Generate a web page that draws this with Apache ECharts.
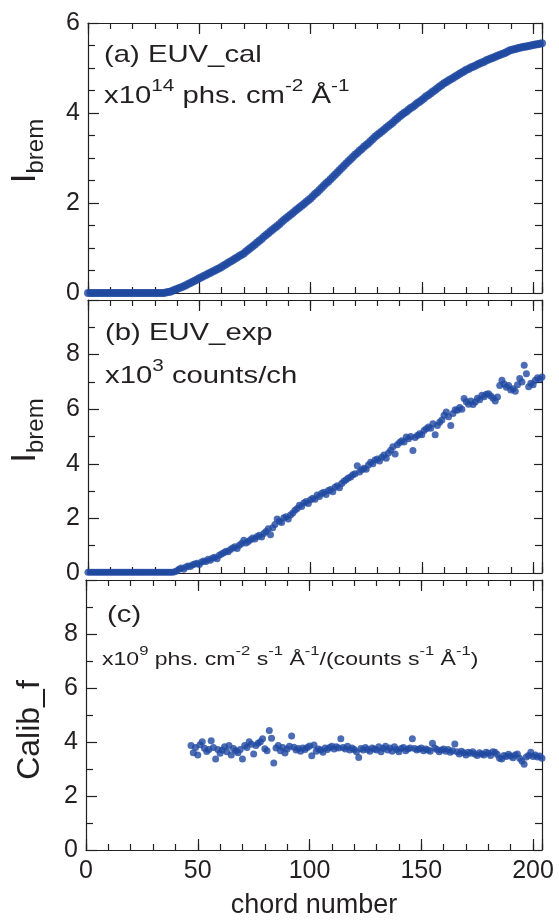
<!DOCTYPE html>
<html>
<head>
<meta charset="utf-8">
<script src="https://cdn.jsdelivr.net/npm/echarts@6/dist/echarts.min.js"></script>
<style>
html, body { margin: 0; padding: 0; background: #fff; }
#main { width: 559px; height: 920px; }
</style>
</head>
<body>
<div id="main"></div>
<script>
// ---- data (chord number = array index, unless a start chord is given) ----
const calValues = [
    0, 0, 0, 0, 0, 0, 0, 0, 0, 0,
    0, 0, 0, 0, 0, 0, 0, 0, 0, 0,
    0, 0, 0, 0, 0, 0, 0, 0, 0, 0,
    0, 0, 0, 0, 0, 0.01, 0.02, 0.03, 0.05, 0.07,
    0.09, 0.11, 0.13, 0.15, 0.17, 0.20, 0.22, 0.25, 0.27, 0.30,
    0.33, 0.35, 0.38, 0.40, 0.43, 0.45, 0.48, 0.50, 0.53, 0.55,
    0.58, 0.61, 0.64, 0.67, 0.70, 0.73, 0.76, 0.79, 0.82, 0.85,
    0.88, 0.92, 0.96, 1.00, 1.04, 1.08, 1.12, 1.16, 1.20, 1.25,
    1.29, 1.33, 1.37, 1.41, 1.45, 1.49, 1.53, 1.58, 1.62, 1.66,
    1.70, 1.74, 1.78, 1.82, 1.86, 1.90, 1.94, 1.98, 2.02, 2.06,
    2.10, 2.15, 2.20, 2.24, 2.29, 2.34, 2.39, 2.44, 2.48, 2.53,
    2.58, 2.63, 2.68, 2.73, 2.78, 2.83, 2.88, 2.93, 2.97, 3.02,
    3.07, 3.11, 3.16, 3.20, 3.25, 3.29, 3.33, 3.38, 3.42, 3.47,
    3.51, 3.55, 3.59, 3.63, 3.67, 3.71, 3.75, 3.79, 3.84, 3.88,
    3.92, 3.96, 4.00, 4.03, 4.07, 4.11, 4.14, 4.18, 4.22, 4.25,
    4.29, 4.33, 4.37, 4.40, 4.44, 4.48, 4.51, 4.55, 4.59, 4.62,
    4.66, 4.69, 4.72, 4.75, 4.78, 4.81, 4.84, 4.87, 4.90, 4.93,
    4.96, 4.98, 5.01, 5.03, 5.05, 5.08, 5.10, 5.12, 5.14, 5.17,
    5.19, 5.21, 5.23, 5.25, 5.27, 5.29, 5.31, 5.33, 5.35, 5.38,
    5.40, 5.41, 5.42, 5.44, 5.45, 5.46, 5.47, 5.48, 5.49, 5.50,
    5.51, 5.52, 5.53, 5.54, 5.55
];

const expValues = [
    0.03, 0.03, 0.03, 0.03, 0.03, 0.03, 0.03, 0.03, 0.03, 0.03,
    0.03, 0.03, 0.03, 0.03, 0.03, 0.03, 0.03, 0.03, 0.03, 0.03,
    0.03, 0.03, 0.03, 0.03, 0.03, 0.03, 0.03, 0.03, 0.03, 0.03,
    0.03, 0.03, 0.03, 0.03, 0.03, 0.03, 0.03, 0.03, 0.03, 0.05,
    0.08, 0.15, 0.18, 0.14, 0.22, 0.26, 0.24, 0.30, 0.33, 0.36,
    0.31, 0.40, 0.44, 0.42, 0.50, 0.47, 0.55, 0.58, 0.52, 0.65,
    0.70, 0.74, 0.80, 0.78, 0.86, 0.92, 0.96, 0.90, 1.02, 1.08,
    1.20, 1.10, 1.15, 1.22, 1.28, 1.25, 1.34, 1.38, 1.32, 1.45,
    1.52, 1.62, 1.40, 1.66, 1.78, 1.98, 1.90, 1.85, 2.02, 2.06,
    1.98, 2.12, 2.20, 2.30, 2.36, 2.48, 2.44, 2.56, 2.62, 2.55,
    2.68, 2.74, 2.70, 2.86, 2.80, 2.92, 2.96, 2.88, 3.02, 3.06,
    2.98, 3.14, 3.20, 3.12, 3.28, 3.36, 3.42, 3.48, 3.52, 3.60,
    3.64, 3.93, 3.70, 3.78, 3.84, 3.80, 3.96, 4.06, 4.00, 4.14,
    4.18, 4.10, 4.24, 4.32, 4.20, 4.40, 4.50, 4.62, 4.36, 4.70,
    4.78, 4.84, 4.80, 4.98, 4.92, 5.00, 4.49, 4.96, 5.04, 5.10,
    5.06, 5.22, 5.28, 5.35, 5.30, 5.47, 5.06, 5.40, 5.52, 5.60,
    5.78, 5.90, 5.72, 5.40, 5.84, 5.98, 5.96, 6.06, 6.00, 6.39,
    6.27, 6.18, 6.30, 6.17, 6.26, 6.40, 6.35, 6.51, 6.46, 6.55,
    6.57, 6.48, 6.40, 6.30, 6.45, 6.87, 7.06, 6.92, 6.80, 6.87,
    6.70, 6.75, 6.66, 6.90, 7.12, 7.00, 7.61, 7.30, 6.82, 6.95,
    6.90, 7.06, 7.15, 7.10, 7.18
];

const calibStart = 47;
const calibValues = [
    3.87, 3.60, 3.80,
    3.52, 3.90, 4.01, 3.77, 3.65, 3.72, 4.05, 3.80, 3.37, 3.72,
    3.58, 3.70, 3.82, 3.64, 3.87, 3.52, 3.76, 3.68, 3.60, 3.72,
    3.37, 3.87, 3.80, 4.01, 3.92, 3.56, 3.87, 3.95, 4.01, 4.12,
    3.75, 3.68, 4.43, 4.14, 3.22, 3.78, 3.87, 3.68, 3.80, 3.59,
    3.74, 3.84, 4.22, 3.81, 3.70, 3.76, 3.66, 3.78, 3.72, 3.80,
    3.85, 3.49, 3.89, 3.66, 3.74, 3.70, 3.62, 3.78, 3.72, 3.80,
    3.84, 3.74, 3.82, 3.78, 4.12, 3.80, 3.74, 3.84, 3.70, 3.78,
    3.72, 3.64, 3.43, 3.76, 3.70, 3.80, 3.72, 3.66, 3.78, 3.74,
    3.70, 3.82, 3.64, 3.76, 3.84, 3.70, 3.78, 3.66, 3.82, 3.72,
    3.64, 3.76, 3.80, 3.68, 3.74, 3.78, 4.12, 3.76, 3.70, 3.74,
    3.78, 3.68, 3.74, 3.70, 3.66, 3.95, 3.78, 3.72, 3.64, 3.70,
    3.74, 3.66, 3.72, 3.62, 3.68, 3.93, 3.64, 3.56, 3.66, 3.60,
    3.52, 3.62, 3.58, 3.64, 3.56, 3.50, 3.60, 3.56, 3.52, 3.62,
    3.58, 3.50, 3.64, 3.62, 3.54, 3.40, 3.37, 3.50, 3.46, 3.55,
    3.48, 3.42, 3.52, 3.56, 3.40, 3.30, 3.18, 3.44, 3.50, 3.62,
    3.46, 3.52, 3.44, 3.48, 3.40
];

// axis ranges / ticks
const xMax = 204;
const xLabelStep = 50;
const xMinorStep = 10;
const yMaxes = [6, 10, 10];
const yLabelMax = [6, 8, 8];
const yLabelStep = 2;
const yMinorSplit = [4, 2, 2];
const yNames = ['{i|I}{s|brem}', '{i|I}{s|brem}', 'Calib_f'];

// ---- style ----
const INK = '#231f20';
const DOT = '#1f48a0';
const FONT = '"Liberation Sans", Arial, Helvetica, sans-serif';

const grids = [
    { left: 86, top: 23, width: 456, height: 270 },
    { left: 86, top: 300, width: 456, height: 273 },
    { left: 86, top: 580, width: 456, height: 270 }
];
// shift of the rotated y names along the axis (padding in text frame)
const namePads = [[0, 0, 0, 14], [0, 0, 0, 12], [0, 30, 0, 0]];

const lineStyle = { color: INK, width: 1.2 };

const xAxes = [];
const yAxes = [];

grids.forEach(function (g, gi) {
    const last = gi === grids.length - 1;
    ['bottom', 'top'].forEach(function (pos) {
        // short ticks every 10
        xAxes.push({
            type: 'value', gridIndex: gi, position: pos,
            min: 0, max: xMax, interval: xMinorStep,
            axisLine: { show: true, onZero: false, lineStyle: lineStyle },
            axisTick: { inside: true, length: 6, lineStyle: lineStyle },
            axisLabel: { show: false },
            splitLine: { show: false }
        });
        // long ticks every 50, labels on the lowest panel only
        const showLab = last && pos === 'bottom';
        xAxes.push({
            type: 'value', gridIndex: gi, position: pos,
            min: 0, max: xMax, interval: xLabelStep,
            axisLine: { show: false, onZero: false },
            axisTick: { inside: true, length: 11, lineStyle: lineStyle },
            axisLabel: {
                show: showLab, fontSize: 25, fontFamily: FONT, color: INK, margin: 9,
                formatter: function (v) { return v % xLabelStep === 0 ? v : ''; }
            },
            splitLine: { show: false },
            name: showLab ? 'chord number' : '',
            nameLocation: 'middle',
            nameGap: 42,
            nameTextStyle: { fontSize: 27, fontFamily: FONT, color: INK }
        });
    });

    ['left', 'right'].forEach(function (pos) {
        const isLeft = pos === 'left';
        yAxes.push({
            type: 'value', gridIndex: gi, position: pos,
            min: 0, max: yMaxes[gi], interval: yLabelStep,
            axisLine: { show: true, onZero: false, lineStyle: lineStyle },
            axisTick: { inside: true, length: isLeft ? 11 : 8, lineStyle: lineStyle },
            minorTick: { show: true, splitNumber: yMinorSplit[gi], length: 7, lineStyle: lineStyle },
            axisLabel: {
                show: isLeft, fontSize: 25, fontFamily: FONT, color: INK, margin: 8,
                formatter: function (v) { return v > yLabelMax[gi] ? '' : v; }
            },
            splitLine: { show: false },
            name: isLeft ? yNames[gi] : '',
            nameLocation: 'middle',
            nameGap: 40,
            nameTextStyle: {
                fontSize: 32, fontFamily: FONT, color: INK,
                padding: namePads[gi],
                rich: {
                    i: { fontSize: 35, fontFamily: FONT, color: INK, lineHeight: 35, verticalAlign: 'top' },
                    s: { fontSize: 24, fontFamily: FONT, color: INK, lineHeight: 40, verticalAlign: 'bottom' }
                }
            }
        });
    });
});

function scatter(gi, data, size) {
    return {
        type: 'scatter',
        xAxisIndex: gi * 4,
        yAxisIndex: gi * 2,
        data: data,
        symbol: 'circle',
        symbolSize: size,
        itemStyle: { color: DOT },
        silent: true
    };
}

const baseRich = {
    b: { fontSize: 24, fontFamily: FONT, fill: INK, lineHeight: 30, verticalAlign: 'bottom' },
    s: { fontSize: 17, fontFamily: FONT, fill: INK, lineHeight: 18, verticalAlign: 'top' }
};
const smallRich = {
    b: { fontSize: 18, fontFamily: FONT, fill: INK, lineHeight: 25, verticalAlign: 'bottom' },
    s: { fontSize: 13, fontFamily: FONT, fill: INK, lineHeight: 14, verticalAlign: 'top' }
};

function label(x, y, text, rich, size, sx) {
    return {
        type: 'text', x: x, y: y, scaleX: sx, z: 10,
        style: {
            text: text, rich: rich, fontSize: size, fontFamily: FONT, fill: INK,
            align: 'left', verticalAlign: 'middle'
        }
    };
}

const option = {
    animation: false,
    backgroundColor: '#fff',
    grid: grids,
    xAxis: xAxes,
    yAxis: yAxes,
    series: [
        scatter(0, calValues.map(function (v, i) { return [i, v]; }), 8),
        scatter(1, expValues.map(function (v, i) { return [i, v]; }), 7),
        scatter(2, calibValues.map(function (v, i) { return [calibStart + i, v]; }), 7)
    ],
    graphic: [
        label(104, 55, '(a) EUV_cal', null, 24, 1.22),
        label(104, 93, '{b|x10}{s|14}{b| phs. cm}{s|-2}{b| Å}{s|-1}', baseRich, 24, 1.22),
        label(105, 333, '(b) EUV_exp', null, 24, 1.22),
        label(105, 373, '{b|x10}{s|3}{b| counts/ch}', baseRich, 24, 1.22),
        label(107, 615, '(c)', null, 24, 1.22),
        label(102, 657, '{b|x10}{s|9}{b| phs. cm}{s|-2}{b| s}{s|-1}{b| Å}{s|-1}{b|/(counts s}{s|-1}{b| Å}{s|-1}{b|)}', smallRich, 18, 1.28)
    ]
};

const chart = echarts.init(document.getElementById('main'));
chart.setOption(option);
</script>
</body>
</html>
